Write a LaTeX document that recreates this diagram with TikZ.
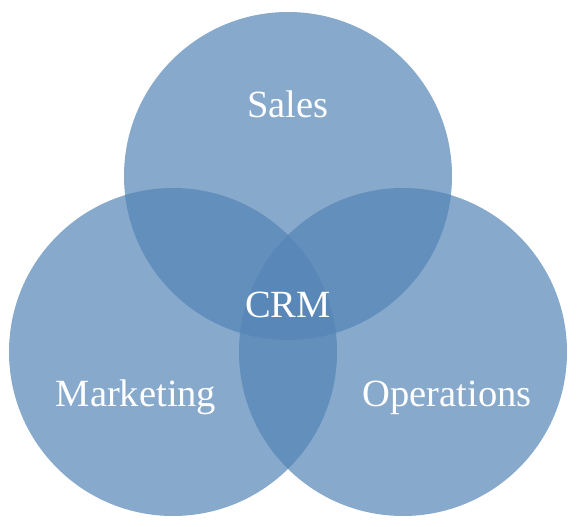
\documentclass[tikz,border=0pt]{standalone}
\usepackage{fontspec}
\setmainfont{Liberation Serif}
\definecolor{vennblue}{RGB}{84,132,181}
\begin{document}
\begin{tikzpicture}[x=1pt, y=1pt,
  set/.style={fill=vennblue, fill opacity=0.7},
  setlabel/.style={text=white, anchor=base, font=\fontsize{38.5}{42}\selectfont}]
\useasboundingbox (0,0) rectangle (578,527);

% the three sets
\fill[set] (288,351) circle (164);
\fill[set] (173,175) circle (164);
\fill[set] (403,175) circle (164);

% labels
\node[setlabel] (sales) at (288,409) {Sales};
\node[setlabel] (crm) at (288,209) {CRM};
\node[setlabel] (marketing) at (136,120) {Marketing};
\node[setlabel] (operations) at (447,120) {Operations};
\end{tikzpicture}
\end{document}
